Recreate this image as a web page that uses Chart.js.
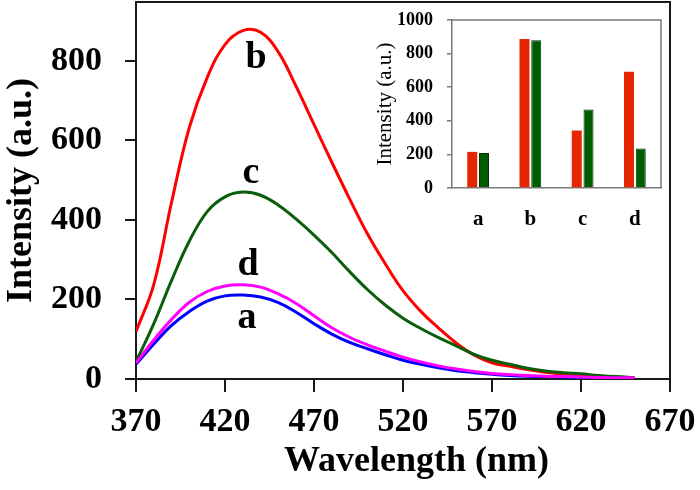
<!DOCTYPE html>
<html><head><meta charset="utf-8">
<script src="https://cdn.jsdelivr.net/npm/chart.js@4/dist/chart.umd.min.js"></script>
<style>
html,body{margin:0;padding:0;background:#fff;}
#wrap{position:relative;width:700px;height:490px;overflow:hidden;}
#main{position:absolute;left:0;top:0;}
#inset{position:absolute;left:372px;top:0;}
</style></head><body>
<div id="wrap">
<canvas id="main" width="700" height="490"></canvas>
<canvas id="inset" width="300" height="235"></canvas>
</div>
<script>
// ---- data ----
const wavelengths = [370,380,390,400,410,420,430,440,450,460,470,480,490,500,510,520,530,540,550,560,570,580,590,600,610,620,630,640,650];
const seriesA = [37,88,135,170,196,209,211,206,192,168,139,113,92,76,61,47,37,28,21,16,12,9,7,6,5,4,3,2,2];            // blue
const seriesB = [119,238,445,633,758,841,876,872,822,735,640,545,453,365,290,222,170,128,90,60,41,32,24,17,12,9,6,4,3]; // red
const seriesC = [43,139,248,347,421,458,470,462,437,402,362,318,270,225,186,153,127,104,83,62,47,37,27,20,16,13,9,6,4]; // green
const seriesD = [40,98,150,193,220,234,237,231,214,190,159,129,105,86,70,55,43,33,25,19,14,11,9,7,6,5,4,3,3];        // magenta
const xTicks = [370,420,470,520,570,620,670];
const yTicks = [0,200,400,600,800];
const curveLabels = ['a','b','c','d'];
const curveLabelNm = [432.4,437.4,434.6,432.9];
const curveLabelIntensity = [128,782,493,262];

const insetCategories = ['a','b','c','d'];
const insetRed = [215,887,342,692];
const insetGreen = [209,879,467,235];
const insetTicks = [0,200,400,600,800,1000];

// ---- helpers ----
const serif = "'Liberation Serif','Times New Roman',Times,serif";
function toXY(ys){ return wavelengths.map((x,i)=>({x:x, y:ys[i]})); }

const framePlugin = {
  id:'frame',
  afterDraw(chart, args, opts){
    const {ctx, chartArea:a} = chart;
    ctx.save();
    ctx.strokeStyle = opts.color || '#000';
    ctx.lineWidth = opts.width || 1;
    ctx.beginPath();
    ctx.moveTo(a.left, a.top);
    ctx.lineTo(a.right, a.top);
    ctx.lineTo(a.right, a.bottom);
    ctx.stroke();
    ctx.restore();
  }
};

const labelPlugin = {
  id:'curveLabels',
  afterDatasetsDraw(chart){
    const {ctx} = chart;
    const xs = chart.scales.x, ys = chart.scales.y;
    ctx.save();
    ctx.font = 'bold 38px ' + serif;
    ctx.fillStyle = '#000';
    ctx.textAlign = 'center';
    ctx.textBaseline = 'alphabetic';
    curveLabels.forEach((t,i)=>{
      ctx.fillText(t, xs.getPixelForValue(curveLabelNm[i]), ys.getPixelForValue(curveLabelIntensity[i]));
    });
    ctx.restore();
  }
};

const axisColor = '#1a1a1a';

// ---- main chart ----
new Chart(document.getElementById('main'), {
  type:'line',
  data:{datasets:[
    {label:'d', data:toXY(seriesD), borderColor:'#ff00ff'},
    {label:'c', data:toXY(seriesC), borderColor:'#0b5d0b'},
    {label:'b', data:toXY(seriesB), borderColor:'#ff0000'},
    {label:'a', data:toXY(seriesA), borderColor:'#0000ff'}
  ]},
  options:{
    responsive:false, animation:false, devicePixelRatio:1,
    layout:{padding:{left:0,right:30,top:2,bottom:0}},
    plugins:{legend:{display:false}, tooltip:{enabled:false}, frame:{color:axisColor,width:2}},
    elements:{point:{radius:0}, line:{borderWidth:3, tension:0.4, cubicInterpolationMode:'default', fill:false}},
    scales:{
      x:{
        type:'linear', min:370, max:670,
        afterBuildTicks:s=>{ s.ticks = xTicks.map(v=>({value:v})); },
        afterFit:s=>{ s.height = 111; s.paddingLeft = 0; s.paddingRight = 0; },
        grid:{display:true, drawOnChartArea:false, drawTicks:true, tickLength:13, lineWidth:2, color:axisColor},
        border:{display:true, color:axisColor, width:2},
        ticks:{color:'#000', font:{family:serif, size:34, weight:'bold'}, padding:10, maxRotation:0, autoSkip:false},
        title:{display:true, text:'\u00a0\u00a0\u00a0Wavelength (nm)', color:'#000', font:{family:serif, size:36, weight:'bold'}, padding:{top:0,bottom:7}}
      },
      y:{
        type:'linear', min:0, max:948,
        afterBuildTicks:s=>{ s.ticks = yTicks.map(v=>({value:v})); },
        afterFit:s=>{ s.width = 136; s.paddingTop = 0; s.paddingBottom = 0; },
        grid:{display:true, drawOnChartArea:false, drawTicks:true, tickLength:11, lineWidth:2, color:axisColor},
        border:{display:true, color:axisColor, width:2},
        ticks:{color:'#000', font:{family:serif, size:34, weight:'bold'}, padding:23},
        title:{display:true, text:'Intensity (a.u.)', color:'#000', font:{family:serif, size:36, weight:'bold'}, padding:{top:0,bottom:0}}
      }
    }
  },
  plugins:[framePlugin, labelPlugin]
});

// ---- inset chart ----
const insetGray = '#7a7a7a';
new Chart(document.getElementById('inset'), {
  type:'bar',
  data:{labels:insetCategories, datasets:[
    {data:insetRed, backgroundColor:'#e52600', borderColor:'#e52600', borderWidth:0},
    {data:insetGreen, backgroundColor:'#005c00', borderColor:'#003300', borderWidth:1}
  ]},
  options:{
    responsive:false, animation:false, devicePixelRatio:1,
    layout:{padding:{left:0,right:11,top:20,bottom:0}},
    plugins:{legend:{display:false}, tooltip:{enabled:false}, frame:{color:insetGray,width:1.5}},
    datasets:{bar:{categoryPercentage:0.45, barPercentage:0.85}},
    scales:{
      x:{
        afterFit:s=>{ s.height = 47; s.paddingLeft = 0; s.paddingRight = 0; },
        grid:{display:false, drawTicks:false},
        border:{display:true, color:insetGray, width:1.5},
        ticks:{color:'#000', font:{family:serif, size:21, weight:'bold'}, padding:19, maxRotation:0}
      },
      y:{
        min:0, max:1000,
        afterBuildTicks:s=>{ s.ticks = insetTicks.map(v=>({value:v})); },
        afterFit:s=>{ s.width = 80; s.paddingTop = 0; s.paddingBottom = 0; },
        grid:{display:true, drawOnChartArea:false, drawTicks:true, tickLength:5, lineWidth:1.5, color:insetGray},
        border:{display:true, color:insetGray, width:1.5},
        ticks:{color:'#000', font:{family:serif, size:18, weight:'bold'}, padding:14, callback:v=>String(v)},
        title:{display:true, text:'Intensity (a.u.)', color:'#000', font:{family:serif, size:21, weight:'normal'}, padding:{top:1,bottom:0}}
      }
    }
  },
  plugins:[framePlugin]
});
</script>
</body></html>
